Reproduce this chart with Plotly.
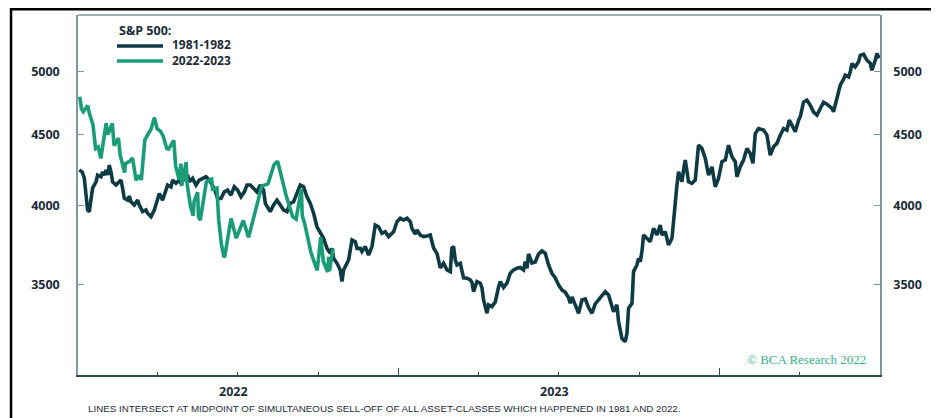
import math
import pandas as pd
import plotly.graph_objects as go

# ---------------- data ----------------
legend_title = "S&P 500:"
series_names = ["1981-1982", "2022-2023"]
y_tick_values = [3500, 4000, 4500, 5000]
y_tick_labels = ["3500", "4000", "4500", "5000"]
year_labels = ["2022", "2023"]
year_label_dates = ["2022-07-01", "2023-07-01"]
footnote = "LINES INTERSECT AT MIDPOINT OF SIMULTANEOUS SELL-OFF OF ALL ASSET-CLASSES WHICH HAPPENED IN 1981 AND 2022."
credit = "© BCA Research 2022"

# 1981-1982 path, time in years after 2022-01-01 (aligned), rescaled index level
dark_years = [
    0.0040, 0.0134, 0.0196, 0.0249, 0.0299, 0.0352, 0.0405, 0.0455, 0.0561, 0.0611,
    0.0717, 0.0766, 0.0819, 0.0872, 0.0922, 0.0975, 0.1028, 0.1078, 0.1184, 0.1287,
    0.1340, 0.1389, 0.1442, 0.1545, 0.1598, 0.1651, 0.1754, 0.1857, 0.1910, 0.2012,
    0.2118, 0.2168, 0.2274, 0.2377, 0.2480, 0.2533, 0.2636, 0.2688, 0.2791, 0.2897,
    0.2947, 0.3053, 0.3156, 0.3209, 0.3312, 0.3414, 0.3467, 0.3570, 0.3676, 0.3779,
    0.3882, 0.3988, 0.4090, 0.4143, 0.4246, 0.4349, 0.4455, 0.4558, 0.4660, 0.4766,
    0.4869, 0.4972, 0.5078, 0.5181, 0.5265, 0.5368, 0.5470, 0.5576, 0.5679, 0.5782,
    0.5835, 0.5888, 0.5991, 0.6093, 0.6199, 0.6302, 0.6405, 0.6511, 0.6614, 0.6717,
    0.6822, 0.6925, 0.7028, 0.7134, 0.7237, 0.7340, 0.7445, 0.7548, 0.7651, 0.7757,
    0.7860, 0.7913, 0.7963, 0.8069, 0.8171, 0.8224, 0.8274, 0.8327, 0.8430, 0.8536,
    0.8639, 0.8692, 0.8794, 0.8847, 0.8950, 0.9053, 0.9159, 0.9262, 0.9364, 0.9470,
    0.9573, 0.9676, 0.9832, 0.9938, 1.0041, 1.0143, 1.0249, 1.0352, 1.0405, 1.0508,
    1.0561, 1.0664, 1.0766, 1.0872, 1.0975, 1.1078, 1.1184, 1.1287, 1.1389, 1.1495,
    1.1598, 1.1648, 1.1701, 1.1754, 1.1807, 1.1910, 1.1963, 1.2012, 1.2118, 1.2221,
    1.2274, 1.2324, 1.2430, 1.2533, 1.2586, 1.2636, 1.2741, 1.2791, 1.2897, 1.3000,
    1.3103, 1.3156, 1.3259, 1.3364, 1.3467, 1.3570, 1.3676, 1.3779, 1.3882, 1.3935,
    1.3988, 1.4037, 1.4143, 1.4246, 1.4349, 1.4455, 1.4558, 1.4660, 1.4766, 1.4869,
    1.4972, 1.5078, 1.5181, 1.5284, 1.5336, 1.5389, 1.5492, 1.5595, 1.5701, 1.5804,
    1.5907, 1.6012, 1.6115, 1.6218, 1.6324, 1.6427, 1.6530, 1.6636, 1.6685, 1.6791,
    1.6841, 1.6947, 1.7050, 1.7103, 1.7153, 1.7259, 1.7308, 1.7414, 1.7464, 1.7517,
    1.7570, 1.7620, 1.7726, 1.7829, 1.7931, 1.8037, 1.8140, 1.8193, 1.8296, 1.8349,
    1.8399, 1.8505, 1.8555, 1.8660, 1.8710, 1.8816, 1.8866, 1.8919, 1.9022, 1.9128,
    1.9231, 1.9333, 1.9439, 1.9542, 1.9645, 1.9751, 1.9854, 1.9956, 2.0062, 2.0165,
    2.0268, 2.0374, 2.0477, 2.0530, 2.0632, 2.0735, 2.0841, 2.0944, 2.1028, 2.1100,
    2.1202, 2.1358, 2.1464, 2.1567, 2.1670, 2.1776, 2.1879, 2.1981, 2.2087, 2.2159,
    2.2243, 2.2346, 2.2449, 2.2502, 2.2604, 2.2710, 2.2813, 2.2916, 2.3022, 2.3125,
    2.3227, 2.3333, 2.3489, 2.3539, 2.3645, 2.3748, 2.3850, 2.3903, 2.4006, 2.4059,
    2.4112, 2.4215, 2.4318, 2.4371, 2.4474, 2.4579, 2.4682, 2.4735, 2.4838, 2.4891,
    2.4963,
]
dark_values = [
    4242, 4228, 4186, 4068, 3968, 3957, 4034, 4116, 4160, 4207,
    4195, 4230, 4207, 4242, 4207, 4278, 4228, 4160, 4137, 4160,
    4172, 4116, 4047, 4034, 4061, 4023, 4001, 4034, 4001, 3957,
    3968, 3946, 3924, 3968, 4045, 4079, 4034, 4068, 4137, 4125,
    4172, 4149, 4172, 4149, 4184, 4207, 4160, 4184, 4137, 4172,
    4184, 4195, 4172, 4149, 4114, 4045, 4045, 4090, 4102, 4068,
    4125, 4102, 4057, 4090, 4137, 4137, 4114, 4090, 4137, 4102,
    4012, 3990, 3957, 4001, 4034, 4001, 3968, 3957, 4012, 4023,
    4079, 4137, 4125, 4057, 4012, 3946, 3858, 3826, 3784, 3721,
    3690, 3721, 3660, 3629, 3589, 3520, 3589, 3609, 3649, 3774,
    3763, 3721, 3721, 3701, 3732, 3680, 3732, 3869, 3858, 3816,
    3826, 3795, 3826, 3891, 3913, 3902, 3913, 3891, 3847, 3811,
    3837, 3805, 3795, 3799, 3805, 3723, 3690, 3601, 3629, 3589,
    3579, 3723, 3732, 3649, 3619, 3629, 3569, 3542, 3540, 3530,
    3515, 3461, 3520, 3510, 3483, 3413, 3338, 3385, 3375, 3402,
    3488, 3520, 3485, 3510, 3569, 3589, 3599, 3604, 3589, 3639,
    3599, 3686, 3631, 3637, 3686, 3705, 3690, 3619, 3569, 3542,
    3500, 3471, 3457, 3425, 3394, 3430, 3385, 3338, 3413, 3419,
    3371, 3338, 3391, 3413, 3442, 3461, 3442, 3379, 3346, 3385,
    3292, 3199, 3183, 3228, 3366, 3394, 3579, 3619, 3659, 3639,
    3701, 3805, 3784, 3763, 3848, 3805, 3869, 3805, 3826, 3784,
    3742, 3784, 3913, 4137, 4230, 4160, 4242, 4314, 4160, 4149,
    4172, 4423, 4398, 4326, 4207, 4265, 4125, 4184, 4302, 4314,
    4423, 4338, 4302, 4195, 4266, 4314, 4398, 4362, 4290, 4510,
    4548, 4536, 4498, 4350, 4411, 4436, 4498, 4548, 4536, 4612,
    4574, 4524, 4612, 4638, 4753, 4769, 4729, 4675, 4651, 4703,
    4753, 4737, 4703, 4677, 4789, 4890, 4939, 4972, 4958, 5000,
    5071, 5043, 5085, 5141, 5150, 5099, 5073, 5014, 5099, 5156,
    5116,
]

# 2022-2023 path
green_dates = [
    "2022-01-03", "2022-01-05", "2022-01-07", "2022-01-12", "2022-01-14", "2022-01-18",
    "2022-01-21", "2022-01-24", "2022-01-27", "2022-02-02", "2022-02-04", "2022-02-09",
    "2022-02-11", "2022-02-16", "2022-02-18", "2022-02-23", "2022-02-24", "2022-03-01",
    "2022-03-04", "2022-03-08", "2022-03-11", "2022-03-14", "2022-03-18", "2022-03-25",
    "2022-03-29", "2022-04-01", "2022-04-05", "2022-04-08", "2022-04-12", "2022-04-14",
    "2022-04-20", "2022-04-22", "2022-04-26", "2022-04-28", "2022-04-29", "2022-05-04",
    "2022-05-05", "2022-05-09", "2022-05-12", "2022-05-13", "2022-05-17", "2022-05-18",
    "2022-05-20", "2022-05-27", "2022-06-02", "2022-06-03", "2022-06-08", "2022-06-10",
    "2022-06-13", "2022-06-16", "2022-06-17", "2022-06-24", "2022-06-30", "2022-07-08",
    "2022-07-14", "2022-07-22", "2022-07-29", "2022-08-05", "2022-08-12", "2022-08-16",
    "2022-08-19", "2022-08-26", "2022-09-02", "2022-09-06", "2022-09-12", "2022-09-13",
    "2022-09-16", "2022-09-23", "2022-09-30", "2022-10-04", "2022-10-07", "2022-10-12",
    "2022-10-13", "2022-10-14", "2022-10-18",
]
green_values = [
    4796, 4700, 4677, 4726, 4663, 4577,
    4398, 4410, 4326, 4589, 4501, 4587,
    4419, 4475, 4349, 4225, 4288, 4306,
    4329, 4170, 4204, 4173, 4463, 4543,
    4632, 4546, 4526, 4488, 4397, 4393,
    4459, 4272, 4175, 4288, 4132, 4300,
    4147, 3991, 3930, 4024, 4088, 3923,
    3901, 4158, 4177, 4109, 4116, 3901,
    3750, 3666, 3675, 3912, 3785, 3899,
    3790, 3962, 4130, 4145, 4280, 4305,
    4228, 4058, 3924, 3908, 4110, 3932,
    3873, 3693, 3586, 3791, 3640, 3577,
    3669, 3583, 3720,
]

# ---------------- figure ----------------
DARK = "#0e3a44"
GREEN = "#1a9c78"
TXT = "#1c2c37"
AXIS_GRAY = "#7f979d"
AXIS_DARK = "#2e4a55"

base = pd.Timestamp("2022-01-01")
dark_dates = [base + pd.Timedelta(days=t * 365.0) for t in dark_years]

fig = go.Figure()
fig.add_trace(go.Scatter(x=dark_dates, y=dark_values, name=series_names[0], mode="lines",
                         line=dict(color=DARK, width=3.6), yaxis="y", showlegend=False))
fig.add_trace(go.Scatter(x=green_dates, y=green_values, name=series_names[1], mode="lines",
                         line=dict(color=GREEN, width=3.6), yaxis="y2", showlegend=False))

bold = dict(family="Open Sans", size=12.5, color=TXT, weight="bold")
legend_font = dict(family="Open Sans", size=12, color=TXT, weight="bold")
y_range = [math.log10(3010), math.log10(5500)]

common_y = dict(type="log", range=y_range, tickmode="array", tickvals=y_tick_values,
                ticktext=y_tick_labels, ticks="inside", ticklen=6, tickcolor=AXIS_GRAY,
                tickwidth=1.3, showline=True, linecolor=AXIS_GRAY, linewidth=1.5,
                showgrid=False, zeroline=False, tickfont=bold, fixedrange=True)

fig.update_layout(
    width=931, height=410, autosize=False,
    margin=dict(l=70, r=59, t=7, b=43),
    paper_bgcolor="white", plot_bgcolor="white",
    showlegend=False,
    xaxis=dict(type="date", range=["2022-01-01", "2024-07-01"], showline=True,
               linecolor=AXIS_DARK, linewidth=1.6, showgrid=False, zeroline=False,
               tickmode="array", tickvals=["2023-01-01", "2024-01-01"], ticks="inside",
               ticklen=7, tickwidth=1.3, tickcolor=AXIS_DARK, showticklabels=False,
               minor=dict(dtick="M3", tick0="2022-01-01", ticks="inside", ticklen=3,
                          tickwidth=1.2, tickcolor=AXIS_DARK, showgrid=False)),
    yaxis=dict(side="left", ticklabelstandoff=14, **common_y),
    yaxis2=dict(side="right", overlaying="y", ticklabelstandoff=9, **common_y),
)

# legend drawn by hand so its spacing matches the original
legend_colors = [DARK, GREEN]
legend_rows_y = [0.9139, 0.8722]
shapes = [
    dict(type="line", xref="paper", yref="paper", x0=0, x1=1, y0=1, y1=1,
         line=dict(color=AXIS_GRAY, width=1.5)),
    dict(type="rect", xref="paper", yref="paper", x0=-0.0835, x1=1.0673,
         y0=-0.4, y1=1.0158, line=dict(color="black", width=2.5), layer="above"),
]
for col, ry in zip(legend_colors, legend_rows_y):
    shapes.append(dict(type="line", xref="paper", yref="paper", x0=0.0486, x1=0.1060,
                       y0=ry, y1=ry, line=dict(color=col, width=3.6)))

annotations = [
    dict(x=0.0486, y=0.9583, xref="paper", yref="paper", text=legend_title,
         showarrow=False, xanchor="left", yanchor="middle", font=bold),
    dict(x=0.1147, y=0.8958, xref="paper", yref="paper", text="<br>".join(series_names),
         showarrow=False, xanchor="left", yanchor="middle", align="left", font=legend_font),
]
for lab, d in zip(year_labels, year_label_dates):
    annotations.append(dict(x=d, y=-0.047, xref="x", yref="paper", text=lab, showarrow=False,
                            xanchor="center", yanchor="middle", xshift=-4, font=bold))
annotations.append(dict(x=0.01, y=-0.092, xref="paper", yref="paper", text=footnote,
                        showarrow=False, xanchor="left", yanchor="middle",
                        font=dict(family="Liberation Sans Narrow, Arial Narrow, sans-serif",
                                  size=9.8, color=TXT)))
annotations.append(dict(x=0.985, y=0.044, xref="paper", yref="paper", text=credit,
                        showarrow=False, xanchor="right", yanchor="middle",
                        font=dict(family="Liberation Serif, DejaVu Serif, serif", size=13,
                                  color="#34b08a")))
fig.update_layout(shapes=shapes, annotations=annotations)

fig.write_html("out.html")
